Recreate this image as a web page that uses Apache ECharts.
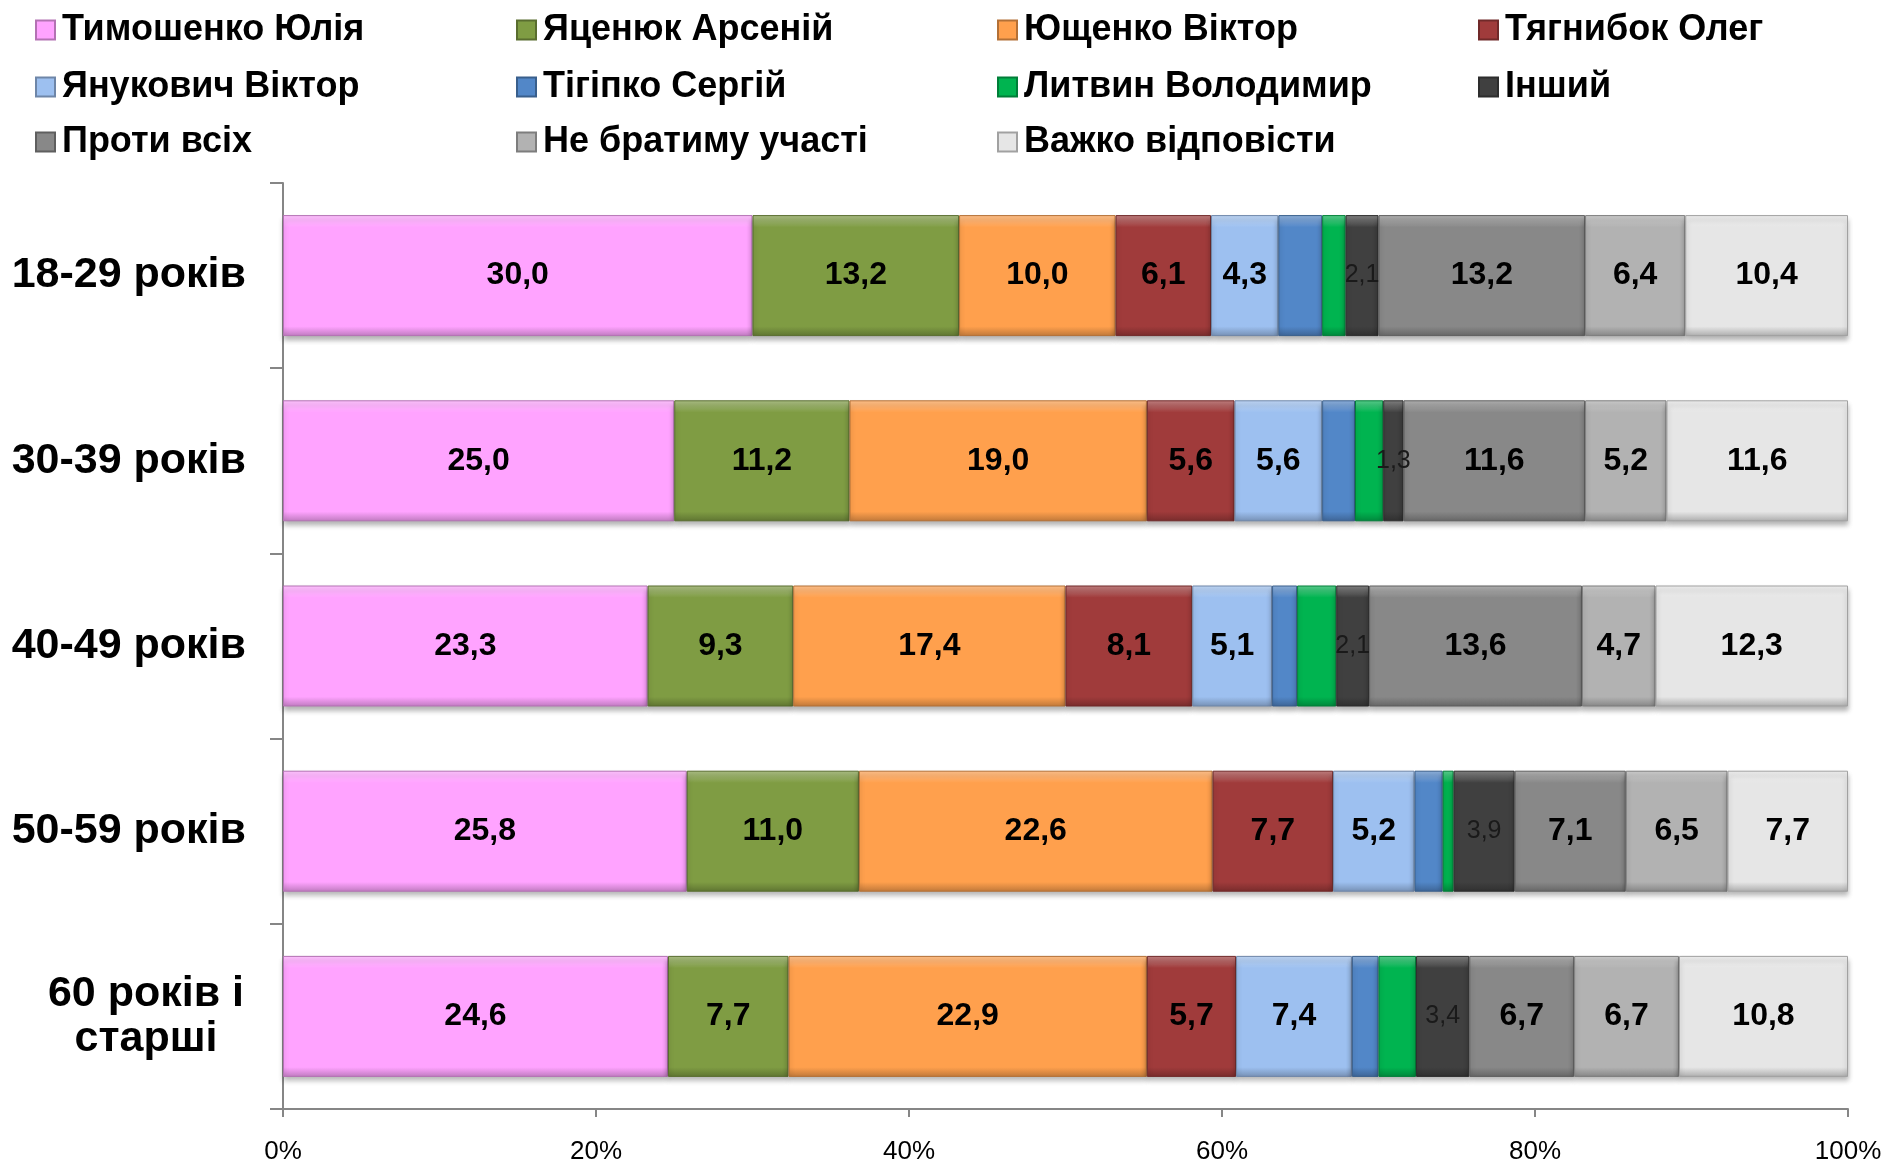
<!DOCTYPE html>
<html>
<head>
<meta charset="utf-8">
<script src="https://cdn.jsdelivr.net/npm/echarts@6/dist/echarts.min.js"></script>
<style>
html,body{margin:0;padding:0;background:#fff;}
#chart{width:1885px;height:1165px;}
</style>
</head>
<body>
<div id="chart"></div>
<script>
var categories = ['18-29 років', '30-39 років', '40-49 років', '50-59 років', '60 років і\nстарші'];
var seriesNames = ['Тимошенко Юлія', 'Яценюк Арсеній', 'Ющенко Віктор', 'Тягнибок Олег',
  'Янукович Віктор', 'Тігіпко Сергій', 'Литвин Володимир', 'Інший',
  'Проти всіх', 'Не братиму участі', 'Важко відповісти'];
var tymoshenko = [30.0, 25.0, 23.3, 25.8, 24.6];
var yatseniuk  = [13.2, 11.2, 9.3, 11.0, 7.7];
var yushchenko = [10.0, 19.0, 17.4, 22.6, 22.9];
var tiahnybok  = [6.1, 5.6, 8.1, 7.7, 5.7];
var yanukovych = [4.3, 5.6, 5.1, 5.2, 7.4];
var tihipko    = [2.8, 2.1, 1.6, 1.8, 1.7];
var lytvyn     = [1.5, 1.8, 2.5, 0.7, 2.4];
var other      = [2.1, 1.3, 2.1, 3.9, 3.4];
var against    = [13.2, 11.6, 13.6, 7.1, 6.7];
var notVote    = [6.4, 5.2, 4.7, 6.5, 6.7];
var hardToSay  = [10.4, 11.6, 12.3, 7.7, 10.8];
var xTicks = [0, 20, 40, 60, 80, 100];

var seriesData = [tymoshenko, yatseniuk, yushchenko, tiahnybok, yanukovych, tihipko, lytvyn, other, against, notVote, hardToSay];
var colors = ['#FFA3FF', '#7F9C43', '#FFA04D', '#A03B3B', '#9DC0F0', '#5287C8', '#00B450', '#404040', '#888888', '#B2B2B2', '#E6E6E6'];
// label style per series: 'bold', 'light', or null (no label)
var labelKind = ['bold', 'bold', 'bold', 'bold', 'bold', null, null, 'light', 'bold', 'bold', 'bold'];

var FONT = 'Arial, "Liberation Sans", sans-serif';

function mix(hex, target, t) {
  var r = parseInt(hex.substr(1, 2), 16), g = parseInt(hex.substr(3, 2), 16), b = parseInt(hex.substr(5, 2), 16);
  r = Math.round(r + (target - r) * t); g = Math.round(g + (target - g) * t); b = Math.round(b + (target - b) * t);
  return 'rgb(' + r + ',' + g + ',' + b + ')';
}
function bevel(hex) {
  return {
    type: 'linear', x: 0, y: 0, x2: 0, y2: 1,
    colorStops: [
      { offset: 0, color: mix(hex, 255, 0.35) },
      { offset: 0.07, color: mix(hex, 255, 0.12) },
      { offset: 0.1, color: hex },
      { offset: 0.92, color: hex },
      { offset: 1, color: mix(hex, 0, 0.25) }
    ]
  };
}
function fmt(v) { return v.toFixed(1).replace('.', ','); }

var legendX = [30, 511, 992, 1473];
var legendY = [5, 62, 117];
var legends = seriesNames.map(function (n, i) {
  return {
    data: [n],
    left: legendX[i % 4],
    top: legendY[Math.floor(i / 4)],
    itemWidth: 19, itemHeight: 19, itemGap: 0,
    icon: 'rect',
    selectedMode: false,
    textStyle: { fontFamily: FONT, fontSize: 36, fontWeight: 'bold', color: '#000', lineHeight: 40, padding: [0, 0, 0, 2] }
  };
});

var series = seriesNames.map(function (n, i) {
  var kind = labelKind[i];
  return {
    name: n,
    type: 'bar',
    stack: 'total',
    barWidth: 121,
    data: seriesData[i],
    itemStyle: {
      color: bevel(colors[i]),
      borderColor: mix(colors[i], 0, 0.3),
      borderWidth: 1,
      shadowColor: 'rgba(0,0,0,0.3)',
      shadowBlur: 5,
      shadowOffsetY: 4
    },
    label: {
      show: kind !== null,
      position: 'inside',
      formatter: function (p) { return fmt(p.value); },
      fontFamily: FONT,
      fontSize: kind === 'light' ? 25 : 32,
      fontWeight: kind === 'light' ? 'normal' : 'bold',
      color: kind === 'light' ? '#1a1a1a' : '#000'
    },
    emphasis: { disabled: true }
  };
});

var chart = echarts.init(document.getElementById('chart'), null, { renderer: 'canvas' });
chart.setOption({
  animation: false,
  backgroundColor: '#fff',
  legend: legends,
  grid: { left: 283, right: 37, top: 183, bottom: 55, containLabel: false },
  xAxis: {
    type: 'value', min: 0, max: 100, interval: 20,
    axisLine: { show: true, lineStyle: { color: '#868686', width: 2 } },
    axisTick: { show: true, length: 8, lineStyle: { color: '#868686', width: 2 } },
    splitLine: { show: false },
    axisLabel: {
      margin: 30,
      fontFamily: FONT, fontSize: 26, color: '#000',
      formatter: function (v) { return xTicks.indexOf(v) >= 0 ? v + '%' : ''; }
    }
  },
  yAxis: {
    type: 'category', inverse: true, data: categories,
    axisLine: { show: true, lineStyle: { color: '#868686', width: 2 } },
    axisTick: { show: true, length: 13, lineStyle: { color: '#868686', width: 2 } },
    axisLabel: {
      margin: 37,
      fontFamily: FONT, fontSize: 43, fontWeight: 'bold', color: '#000',
      formatter: function (v) {
        if (v.indexOf('\n') >= 0) {
          return v.split('\n').map(function (s) { return '{c|' + s + '}'; }).join('\n');
        }
        return v;
      },
      rich: {
        c: { width: 200, align: 'center', fontFamily: FONT, fontSize: 43, fontWeight: 'bold', color: '#000', lineHeight: 45 }
      }
    }
  },
  series: series
});
</script>
</body>
</html>
